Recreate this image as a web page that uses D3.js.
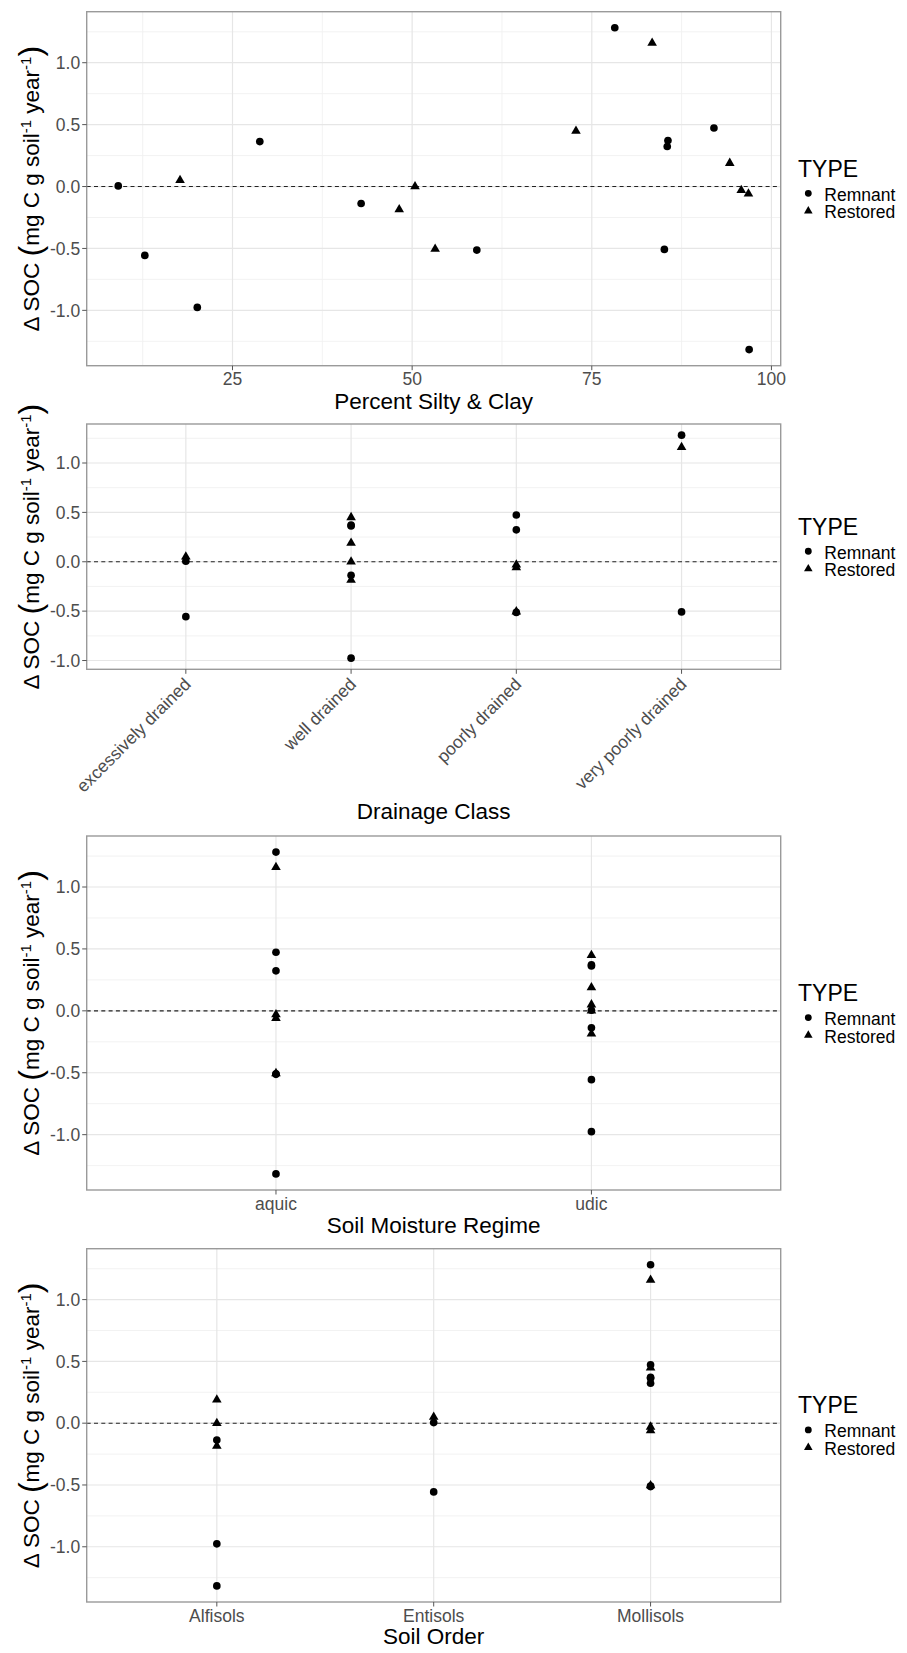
<!DOCTYPE html>
<html>
<head>
<meta charset="utf-8">
<script src="https://cdn.jsdelivr.net/npm/d3@7"></script>
<style>
  body { margin: 0; background: #fff; }
  text { font-family: "Liberation Sans", Arial, Helvetica, sans-serif; }
</style>
</head>
<body>
<div id="my_dataviz"></div>
<script>
// values, one entry per site
var siltClay  = [9.1, 12.8, 17.7, 20.1, 28.8, 42.9, 48.2, 50.4, 53.2, 59.0, 72.8,
                 78.2, 83.4, 85.1, 85.5, 85.6, 92.0, 94.2, 95.8, 96.8, 96.9];
var socChange = [0.005, -0.556, 0.05, -0.976, 0.363, -0.137, -0.185, 0.0, -0.505, -0.513, 0.449,
                 1.282, 1.159, -0.508, 0.323, 0.371, 0.473, 0.189, -0.03, -0.059, -1.317];
var siteType  = ["Remnant", "Remnant", "Restored", "Remnant", "Remnant", "Remnant", "Restored",
                 "Restored", "Restored", "Remnant", "Restored", "Remnant", "Restored", "Remnant",
                 "Remnant", "Remnant", "Remnant", "Restored", "Restored", "Restored", "Remnant"];
var drainage  = ["excessively drained", "excessively drained", "excessively drained", "well drained",
                 "well drained", "well drained", "well drained", "well drained", "poorly drained",
                 "poorly drained", "well drained", "very poorly drained", "very poorly drained",
                 "very poorly drained", "poorly drained", "well drained", "poorly drained",
                 "well drained", "poorly drained", "poorly drained", null];
var moisture  = ["udic", "udic", "udic", "udic", "udic", "udic", "udic", "udic", "aquic", "aquic", "udic",
                 "aquic", "aquic", "aquic", "aquic", "udic", "aquic", "udic", "aquic", "aquic", "aquic"];
var soilOrder = ["Entisols", "Entisols", "Entisols", "Alfisols", "Mollisols", "Alfisols", "Alfisols",
                 "Alfisols", "Mollisols", "Mollisols", "Mollisols", "Mollisols", "Mollisols", "Mollisols",
                 "Mollisols", "Mollisols", "Mollisols", "Alfisols", "Mollisols", "Mollisols", "Alfisols"];

var drainageLevels = ["excessively drained", "well drained", "poorly drained", "very poorly drained"];
var moistureLevels = ["aquic", "udic"];
var orderLevels = ["Alfisols", "Entisols", "Mollisols"];
var typeLevels = ["Remnant", "Restored"];
var siltTicks = [25, 50, 75, 100];
var siltMinor = [12.5, 37.5, 62.5, 87.5];
var socTicks = [-1, -0.5, 0, 0.5, 1];
var socMinor = [-1.25, -0.75, -0.25, 0.25, 0.75, 1.25];

var sites = siltClay.map(function(d, i) {
  return {silt: d, soc: socChange[i], type: siteType[i], drainage: drainage[i],
          moisture: moisture[i], order: soilOrder[i]};
});

var W = 907, H = 1653;
var left = 86.7, right = 780.7;
var fontTick = 17.5, fontTitle = 22.5;

var svg = d3.select("#my_dataviz")
  .append("svg")
    .attr("width", W)
    .attr("height", H);

var shape = d3.scaleOrdinal().domain(typeLevels).range([d3.symbolCircle, d3.symbolTriangle]);
var shapeSize = d3.scaleOrdinal().domain(typeLevels).range([46, 40]);

function fmt(v) { return d3.format(".1f")(v).replace("\u2212", "-"); }

// ggplot style 5% expansion
function expand(ext) {
  var pad = (ext[1] - ext[0]) * 0.05;
  return [ext[0] - pad, ext[1] + pad];
}

function drawPanel(cfg) {
  var data = sites.filter(function(d) { return d[cfg.key] != null; });
  var top = cfg.top, bottom = cfg.bottom;
  var g = svg.append("g");

  var y = d3.scaleLinear()
    .domain(expand(d3.extent(data, function(d) { return d.soc; })))
    .range([bottom, top]);

  var x;
  if (cfg.levels) {
    x = d3.scalePoint().domain(cfg.levels).range([left, right]).padding(0.6);
  } else {
    x = d3.scaleLinear()
      .domain(expand(d3.extent(data, function(d) { return d[cfg.key]; })))
      .range([left, right]);
  }
  var xTicks = cfg.levels ? cfg.levels : siltTicks;
  var yMinor = socMinor.filter(function(v) { return y(v) > top && y(v) < bottom; });
  var yMajor = socTicks.filter(function(v) { return y(v) > top && y(v) < bottom; });

  // grid
  g.selectAll(".ymin").data(yMinor).enter().append("line")
    .attr("x1", left).attr("x2", right)
    .attr("y1", function(d) { return y(d); }).attr("y2", function(d) { return y(d); })
    .style("stroke", "#f1f1f1").style("stroke-width", 0.9);
  if (!cfg.levels) {
    g.selectAll(".xmin").data(siltMinor).enter().append("line")
      .attr("y1", top).attr("y2", bottom)
      .attr("x1", function(d) { return x(d); }).attr("x2", function(d) { return x(d); })
      .style("stroke", "#f1f1f1").style("stroke-width", 0.9);
  }
  g.selectAll(".ymaj").data(yMajor).enter().append("line")
    .attr("x1", left).attr("x2", right)
    .attr("y1", function(d) { return y(d); }).attr("y2", function(d) { return y(d); })
    .style("stroke", "#e6e6e6").style("stroke-width", 1.2);
  g.selectAll(".xmaj").data(xTicks).enter().append("line")
    .attr("y1", top).attr("y2", bottom)
    .attr("x1", function(d) { return x(d); }).attr("x2", function(d) { return x(d); })
    .style("stroke", "#e6e6e6").style("stroke-width", 1.2);

  // zero reference line
  g.append("line")
    .attr("x1", left).attr("x2", right)
    .attr("y1", y(0)).attr("y2", y(0))
    .style("stroke", "#222").style("stroke-width", 1.1)
    .style("stroke-dasharray", "4,3.3");

  // points
  g.selectAll(".pt").data(data).enter().append("path")
    .attr("d", function(d) { return d3.symbol().type(shape(d.type)).size(shapeSize(d.type))(); })
    .attr("transform", function(d) { return "translate(" + x(d[cfg.key]) + "," + y(d.soc) + ")"; })
    .style("fill", "black");

  // border
  g.append("rect")
    .attr("x", left).attr("y", top)
    .attr("width", right - left).attr("height", bottom - top)
    .style("fill", "none").style("stroke", "#9a9a9a").style("stroke-width", 1.4);

  // y axis
  g.selectAll(".yt").data(yMajor).enter().append("line")
    .attr("x1", left - 4.5).attr("x2", left)
    .attr("y1", function(d) { return y(d); }).attr("y2", function(d) { return y(d); })
    .style("stroke", "#555");
  g.selectAll(".yl").data(yMajor).enter().append("text")
    .attr("x", left - 6.5).attr("y", function(d) { return y(d); })
    .attr("dy", "0.36em")
    .attr("text-anchor", "end")
    .style("font-size", fontTick + "px").style("fill", "#4d4d4d")
    .text(fmt);

  // x axis
  g.selectAll(".xt").data(xTicks).enter().append("line")
    .attr("y1", bottom).attr("y2", bottom + 4.5)
    .attr("x1", function(d) { return x(d); }).attr("x2", function(d) { return x(d); })
    .style("stroke", "#555");
  if (cfg.rotate) {
    g.selectAll(".xl").data(xTicks).enter().append("text")
      .attr("transform", function(d) { return "translate(" + (x(d) + 6) + "," + (bottom + 16) + ") rotate(-45)"; })
      .attr("text-anchor", "end")
      .style("font-size", fontTick + "px").style("fill", "#4d4d4d")
      .text(function(d) { return d; });
  } else {
    g.selectAll(".xl").data(xTicks).enter().append("text")
      .attr("x", function(d) { return x(d); }).attr("y", bottom + 19.5)
      .attr("text-anchor", "middle")
      .style("font-size", fontTick + "px").style("fill", "#4d4d4d")
      .text(function(d) { return d; });
  }

  g.append("text")
    .attr("x", (left + right) / 2).attr("y", bottom + cfg.titleGap)
    .attr("text-anchor", "middle")
    .style("font-size", fontTitle + "px").style("fill", "black")
    .text(cfg.title);

  // y title with superscripts
  var yt = g.append("text")
    .attr("transform", "translate(38.5," + ((top + bottom) / 2) + ") rotate(-90)")
    .attr("text-anchor", "middle")
    .style("font-size", fontTitle + "px").style("fill", "black");
  yt.append("tspan").text("\u0394 SOC ");
  yt.append("tspan").style("font-size", "32px").attr("dy", 2.5).text("(");
  yt.append("tspan").attr("dy", -2.5).text("mg C g soil");
  yt.append("tspan").style("font-size", "15px").attr("dy", -8).text("-1");
  yt.append("tspan").attr("dy", 8).text(" year");
  yt.append("tspan").style("font-size", "15px").attr("dy", -8).text("-1");
  yt.append("tspan").style("font-size", "32px").attr("dy", 10.5).text(")");

  // legend
  var cy = (top + bottom) / 2;
  g.append("text")
    .attr("x", 798).attr("y", cy - 12)
    .style("font-size", "23px").style("fill", "black")
    .text("TYPE");
  typeLevels.forEach(function(t, i) {
    g.append("path")
      .attr("d", d3.symbol().type(shape(t)).size(shapeSize(t) * 0.8)())
      .attr("transform", "translate(808.3," + (cy + 4.6 + i * 17.6) + ")")
      .style("fill", "black");
    g.append("text")
      .attr("x", 824.3).attr("y", cy + 12 + i * 17.6)
      .style("font-size", fontTick + "px").style("fill", "black")
      .text(t);
  });
}

drawPanel({key: "silt", top: 11.7, bottom: 365.7, title: "Percent Silty & Clay", titleGap: 43.6});
drawPanel({key: "drainage", levels: drainageLevels, rotate: true, top: 424, bottom: 669.3,
           title: "Drainage Class", titleGap: 150});
drawPanel({key: "moisture", levels: moistureLevels, top: 836, bottom: 1190,
           title: "Soil Moisture Regime", titleGap: 42.5});
drawPanel({key: "order", levels: orderLevels, top: 1248.7, bottom: 1602,
           title: "Soil Order", titleGap: 42});
</script>
</body>
</html>
